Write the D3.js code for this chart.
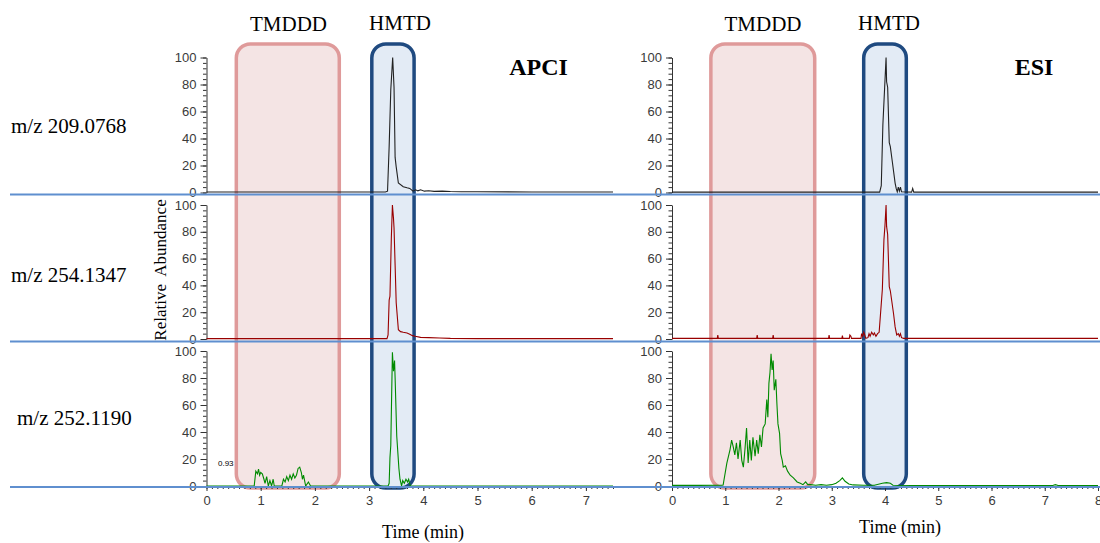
<!doctype html>
<html lang="en">
<head>
<meta charset="utf-8">
<title>APCI vs ESI chromatograms</title>
<script src="https://d3js.org/d3.v7.min.js"></script>
<style>
  body { margin: 0; background: #fff; }
  svg { display: block; }
</style>
</head>
<body>
<div id="chart"></div>
<script>
// ---- data ----
var sources = ["APCI", "ESI"];
var ions = ["m/z 209.0768", "m/z 254.1347", "m/z 252.1190"];
var compounds = ["TMDDD", "HMTD"];
var yTickValues = [0, 20, 40, 60, 80, 100];
var xTicksApci = [0, 1, 2, 3, 4, 5, 6, 7];
var xTicksEsi = [0, 1, 2, 3, 4, 5, 6, 7, 8];
// time windows (min) of the highlight boxes, per source
var tmdddWindow = { APCI: [0.55, 2.45], ESI: [0.73, 2.68] };
var hmtdWindow = { APCI: [3.05, 3.83], ESI: [3.6, 4.4] };

// [time (min), relative abundance]
var apci209 = [[0,0.4],[0.5,0.4],[1,0.4],[1.5,0.4],[2,0.4],[2.5,0.4],[3,0.4],[3.3,0.4],[3.34,1],[3.37,34],[3.4,76],[3.435,100],[3.46,78],[3.48,26],[3.5,19],[3.54,7],[3.63,4.3],[3.7,3.5],[3.75,3],[3.81,1],[3.86,2],[3.9,1.2],[3.95,2],[4.02,1],[4.1,1.3],[4.2,0.8],[4.35,1],[4.5,0.7],[4.7,0.6],[5,0.5],[6,0.4],[7,0.4],[7.5,0.4]];
var apci254 = [[0,0.3],[1,0.3],[2,0.3],[3,0.3],[3.33,0.3],[3.35,3],[3.37,29],[3.385,32],[3.41,75],[3.43,100],[3.45,90],[3.46,83],[3.48,55],[3.5,27],[3.54,7],[3.58,5.5],[3.63,5],[3.7,4.5],[3.75,3.5],[3.8,2.5],[3.85,2],[3.95,1.2],[4.1,1],[4.3,0.8],[4.5,0.5],[5,0.3],[6,0.3],[7.5,0.3]];
var apci252 = [[0,0],[0.88,0],[0.91,11],[0.94,9],[0.96,12.5],[0.98,8],[1.0,10],[1.03,9],[1.06,5],[1.08,2],[1.11,7],[1.14,0],[1.17,4],[1.2,0],[1.23,5],[1.25,0],[1.39,0],[1.42,5],[1.45,3],[1.48,7],[1.51,4],[1.54,8],[1.57,5],[1.6,9],[1.63,6],[1.66,8],[1.69,13],[1.72,14],[1.75,10],[1.77,5],[1.79,8],[1.83,0],[1.88,3],[1.92,0],[3.35,0],[3.37,2],[3.385,21],[3.4,30],[3.43,99],[3.45,85],[3.47,93],[3.48,80],[3.51,37],[3.55,13],[3.57,5],[3.6,0],[3.62,4],[3.65,2],[3.68,5],[3.71,3],[3.73,5],[3.76,0],[7.5,0]];
var esi209 = [[0,0.3],[1,0.3],[2,0.3],[3,0.3],[3.9,0.3],[3.93,5],[3.96,50],[4.02,100],[4.03,82],[4.05,78],[4.08,37],[4.1,34],[4.14,22],[4.19,7],[4.21,3],[4.23,0.5],[4.25,4],[4.27,1],[4.29,4],[4.31,0.5],[4.5,0.3],[4.52,3],[4.54,0.3],[8,0.3]];
var esi254 = [[0,0.5],[0.85,0.5],[0.86,3],[0.87,0.5],[1.59,0.5],[1.6,3],[1.61,0.5],[1.89,0.5],[1.9,3],[1.91,0.5],[2.94,0.5],[2.95,3],[2.96,0.5],[3.19,0.5],[3.2,2.5],[3.21,0.5],[3.33,0.5],[3.34,3],[3.36,2],[3.37,0.5],[3.55,0.5],[3.56,4],[3.58,2],[3.6,5],[3.62,3],[3.64,0.5],[3.68,1],[3.7,4],[3.72,2],[3.75,5],[3.78,3],[3.8,4.5],[3.83,2],[3.86,4],[3.89,5],[3.95,37],[3.98,74],[4.0,85],[4.02,100],[4.03,84],[4.05,78],[4.08,39],[4.1,36],[4.16,19],[4.19,9],[4.22,3],[4.25,4],[4.27,2],[4.29,4],[4.31,1],[4.35,0.5],[8,0.5]];
var esi252 = [[0,0.5],[0.5,0.5],[0.94,0.6],[0.96,0.7],[1.03,17],[1.09,27],[1.12,34],[1.15,29],[1.18,23],[1.21,32],[1.24,20],[1.28,34],[1.31,19],[1.34,14],[1.37,27],[1.4,43],[1.43,17],[1.46,34],[1.49,19],[1.52,36],[1.56,22],[1.59,34],[1.62,24],[1.65,38],[1.68,29],[1.71,43],[1.75,46],[1.78,64],[1.8,51],[1.82,76],[1.84,84],[1.86,98],[1.88,86],[1.9,93],[1.92,71],[1.95,79],[1.97,61],[1.99,46],[2.02,39],[2.04,24],[2.07,19],[2.09,14],[2.13,15],[2.17,11],[2.22,8],[2.28,6],[2.35,3],[2.41,2],[2.46,1],[2.51,3],[2.55,1],[2.6,1],[2.7,0.6],[2.8,1],[2.9,0.6],[3.0,1],[3.08,2],[3.15,4],[3.2,6],[3.25,3.5],[3.32,1.5],[3.4,0.8],[3.6,0.6],[3.8,0.6],[3.95,2],[4.03,2.5],[4.1,2],[4.15,0.6],[4.5,0.4],[5,0.4],[6,0.4],[7.15,0.4],[7.2,1],[7.25,0.4],[8,0.4]];

var traces = {
  APCI: [apci209, apci254, apci252],
  ESI: [esi209, esi254, esi252]
};
var traceColors = ["#222222", "#990000", "#008a00"];

// ---- layout ----
var width = 1100, height = 543;
var cols = [
  { key: "APCI", x0: 206.5, x1: 613, max: 7.5, ticks: xTicksApci, tmX: 288.5, hmX: 400, title: 538.5 },
  { key: "ESI", x0: 672, x1: 1098, max: 8, ticks: xTicksEsi, tmX: 763, hmX: 889, title: 1034 }
];
var rows = [
  { y0: 192.5, y100: 57.5, label: 133 },
  { y0: 339, y100: 205, label: 281.5 },
  { y0: 486, y100: 351, label: 425 }
];
var separators = [194.5, 341.5, 487];

var svg = d3.select("#chart").append("svg")
  .attr("width", width)
  .attr("height", height);

cols.forEach(function (c) {
  var x = d3.scaleLinear().domain([0, c.max]).range([c.x0, c.x1]);

  // highlight boxes
  var boxes = [
    { win: tmdddWindow[c.key], stroke: "#df9a9a", fill: "#f4e4e4" },
    { win: hmtdWindow[c.key], stroke: "#1f4a80", fill: "#e3ebf5" }
  ];
  svg.append("g").selectAll("rect")
    .data(boxes)
    .enter()
    .append("rect")
    .attr("x", function (d) { return x(d.win[0]); })
    .attr("y", 44)
    .attr("width", function (d) { return x(d.win[1]) - x(d.win[0]); })
    .attr("height", 444)
    .attr("rx", 14)
    .attr("fill", function (d) { return d.fill; })
    .attr("stroke", function (d) { return d.stroke; })
    .attr("stroke-width", 3.5);

  // compound labels above the boxes
  svg.append("text").attr("x", c.tmX).attr("y", 31).attr("text-anchor", "middle")
    .style("font-family", "Liberation Serif, serif").style("font-size", "21px")
    .text(compounds[0]);
  svg.append("text").attr("x", c.hmX).attr("y", 29.5).attr("text-anchor", "middle")
    .style("font-family", "Liberation Serif, serif").style("font-size", "21px")
    .text(compounds[1]);

  // source title
  svg.append("text").attr("x", c.title).attr("y", 75).attr("text-anchor", "middle")
    .style("font-family", "Liberation Serif, serif").style("font-size", "24px")
    .style("font-weight", "bold")
    .text(c.key);

  rows.forEach(function (r, i) {
    var y = d3.scaleLinear().domain([0, 100]).range([r.y0, r.y100]);

    // minor y ticks
    svg.append("g")
      .attr("transform", "translate(" + c.x0 + ",0)")
      .call(d3.axisLeft(y).tickValues(d3.range(0, 101, 4)).tickSize(3.5).tickFormat(""))
      .call(function (g) { g.select(".domain").remove(); })
      .selectAll("line").attr("stroke", "#333");

    // major y ticks
    var ya = svg.append("g")
      .attr("transform", "translate(" + c.x0 + ",0)")
      .call(d3.axisLeft(y).tickValues(yTickValues).tickSize(6).tickPadding(4).tickSizeOuter(0));
    ya.select(".domain").attr("stroke", "#333");
    ya.selectAll("line").attr("stroke", "#333");
    ya.selectAll("text")
      .style("font-family", "Liberation Sans, Arial, sans-serif")
      .style("font-size", "13px")
      .attr("fill", "#3a3a3a");

    // trace
    var line = d3.line()
      .x(function (d) { return x(d[0]); })
      .y(function (d) { return y(d[1]); });
    svg.append("path")
      .datum(traces[c.key][i])
      .attr("d", line)
      .attr("fill", "none")
      .attr("stroke", traceColors[i])
      .attr("stroke-width", 1.1);

    if (i === rows.length - 1) {
      // time axis
      svg.append("g")
        .attr("transform", "translate(0," + r.y0 + ")")
        .call(d3.axisBottom(x).tickValues(d3.range(0, c.max + 0.01, 0.1)).tickSize(3).tickFormat(""))
        .call(function (g) { g.select(".domain").remove(); })
        .selectAll("line").attr("stroke", "#333");
      var xa = svg.append("g")
        .attr("transform", "translate(0," + r.y0 + ")")
        .call(d3.axisBottom(x).tickValues(c.ticks).tickSize(5).tickPadding(5).tickSizeOuter(0));
      xa.select(".domain").attr("stroke", "#333");
      xa.selectAll("line").attr("stroke", "#333");
      xa.selectAll("text")
        .style("font-family", "Liberation Sans, Arial, sans-serif")
        .style("font-size", "13px")
        .attr("fill", "#3a3a3a");

      svg.append("text")
        .attr("x", c.key === "APCI" ? 423 : 900)
        .attr("y", c.key === "APCI" ? 538 : 533)
        .attr("text-anchor", "middle")
        .style("font-family", "Liberation Serif, serif")
        .style("font-size", "18px")
        .text("Time (min)");
    }
  });
});

// small scan label on APCI trace
svg.append("text")
  .attr("x", 218).attr("y", 466)
  .style("font-family", "Liberation Sans, Arial, sans-serif")
  .style("font-size", "8px")
  .text("0.93");

// ion labels
svg.append("g").selectAll("text")
  .data(ions)
  .enter()
  .append("text")
  .attr("x", function (d, i) { return i === 2 ? 17 : 11; })
  .attr("y", function (d, i) { return rows[i].label; })
  .style("font-family", "Liberation Serif, serif")
  .style("font-size", "21px")
  .text(function (d) { return d; });

// y axis title
svg.append("text")
  .attr("transform", "translate(166,270) rotate(-90)")
  .attr("text-anchor", "middle")
  .style("font-family", "Liberation Serif, serif")
  .style("font-size", "17px")
  .style("word-spacing", "4px")
  .text("Relative Abundance");

// blue separators between traces
svg.append("g").selectAll("line")
  .data(separators)
  .enter()
  .append("line")
  .attr("x1", 10)
  .attr("x2", 1100)
  .attr("y1", function (d) { return d; })
  .attr("y2", function (d) { return d; })
  .attr("stroke", "#5f8fcf")
  .attr("stroke-width", 2);
</script>
</body>
</html>
